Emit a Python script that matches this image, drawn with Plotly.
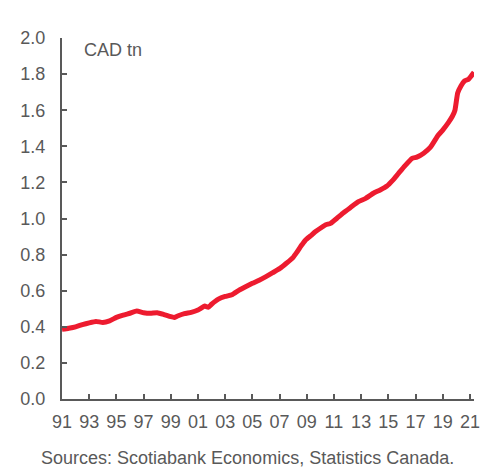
import plotly.graph_objects as go

years = [1991.0, 1991.5, 1992.0, 1992.5, 1993.0, 1993.5, 1994.0, 1994.5, 1995.0, 1995.5,
         1996.0, 1996.5, 1997.0, 1997.5, 1998.0, 1998.5, 1999.0, 1999.25, 1999.5, 2000.0,
         2000.5, 2001.0, 2001.5, 2001.75, 2002.0, 2002.5, 2003.0, 2003.5, 2004.0, 2004.5,
         2005.0, 2005.5, 2006.0, 2006.5, 2007.0, 2007.5, 2008.0, 2008.3, 2008.6, 2008.9,
         2009.3, 2009.6, 2010.0, 2010.4, 2010.75, 2011.2, 2011.7, 2012.2, 2012.8, 2013.3,
         2013.9, 2014.4, 2014.9, 2015.3, 2015.75, 2016.2, 2016.75, 2017.1, 2017.6, 2018.1,
         2018.65, 2019.0, 2019.4, 2019.7, 2019.9, 2020.1, 2020.35, 2020.6, 2020.9, 2021.1,
         2021.3]
debt = [0.386, 0.392, 0.400, 0.412, 0.422, 0.430, 0.424, 0.433, 0.452, 0.465,
        0.475, 0.487, 0.478, 0.475, 0.478, 0.468, 0.456, 0.452, 0.460, 0.473,
        0.480, 0.493, 0.515, 0.508, 0.525, 0.553, 0.568, 0.578, 0.602, 0.622,
        0.641, 0.658, 0.678, 0.700, 0.722, 0.752, 0.785, 0.816, 0.850, 0.880,
        0.905, 0.925, 0.946, 0.965, 0.973, 1.000, 1.032, 1.060, 1.093, 1.110,
        1.140, 1.158, 1.180, 1.210, 1.250, 1.290, 1.333, 1.340, 1.362, 1.395,
        1.460, 1.490, 1.530, 1.565, 1.600, 1.695, 1.735, 1.762, 1.772, 1.790,
        1.810]

x_tickvals = list(range(1991, 2022, 2))
x_ticktext = ["91", "93", "95", "97", "99", "01", "03", "05", "07", "09",
              "11", "13", "15", "17", "19", "21"]
y_tickvals = [0.0, 0.2, 0.4, 0.6, 0.8, 1.0, 1.2, 1.4, 1.6, 1.8, 2.0]
y_ticktext = ["0.0", "0.2", "0.4", "0.6", "0.8", "1.0", "1.2", "1.4", "1.6", "1.8", "2.0"]

grey = "#595959"
font_family = "Liberation Sans, Arial, sans-serif"

# page body has an 8px margin, so the figure is sized/placed to compensate
W, H = 487, 462
ML, MR, MT, MB = 52, 21, 30, 71
pw, ph = W - ML - MR, H - MT - MB

fig = go.Figure()
fig.add_trace(go.Scatter(x=years, y=debt, mode="lines",
                         line=dict(color="#ED1B2F", width=5, shape="spline", smoothing=0.4),
                         showlegend=False, hoverinfo="skip"))

fig.update_layout(
    width=W, height=H,
    margin=dict(l=ML, r=MR, t=MT, b=MB, pad=0),
    paper_bgcolor="white", plot_bgcolor="white",
    font=dict(family=font_family, size=18, color=grey),
    xaxis=dict(range=[1991, 2021.3], tickvals=x_tickvals, ticktext=x_ticktext,
               showgrid=False, zeroline=False, showline=True, linecolor=grey, linewidth=2,
               ticks="inside", ticklen=5, tickwidth=2, tickcolor=grey,
               tickfont=dict(size=18, color=grey), ticklabelstandoff=5),
    yaxis=dict(range=[0, 2.0], tickvals=y_tickvals, ticktext=y_ticktext,
               showgrid=False, zeroline=False, showline=True, linecolor=grey, linewidth=2,
               ticks="inside", ticklen=5, tickwidth=2, tickcolor=grey,
               tickfont=dict(size=18, color=grey), ticklabelstandoff=11),
    annotations=[
        dict(x=1992.45, y=1.933, xref="x", yref="y", text="CAD tn", showarrow=False,
             xanchor="left", yanchor="middle", font=dict(size=18, color=grey)),
        dict(x=(238 - ML) / pw, y=(ph + MT - 450) / ph, xref="paper", yref="paper",
             text="Sources: Scotiabank Economics, Statistics Canada.",
             showarrow=False, xanchor="center", yanchor="middle",
             font=dict(size=18, color=grey)),
    ],
)

fig.write_html("out.html")
